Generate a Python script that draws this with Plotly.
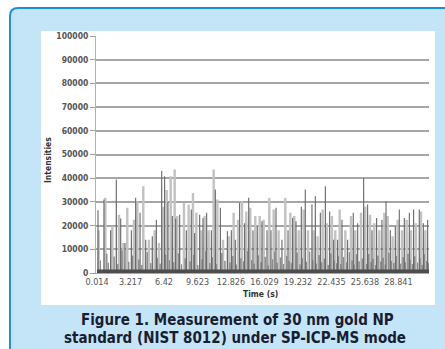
import plotly.graph_objects as go

# ---------------- data ----------------
tick_labels = ["0.014", "3.217", "6.42", "9.623", "12.826", "16.029",
               "19.232", "22.435", "25.638", "28.841"]
y_ticks = [0, 10000, 20000, 30000, 40000, 50000, 60000, 70000, 80000, 90000, 100000]

time_start = 0.014
time_end = 31.76
background_level = 700

# particle events (time in s, peak intensity)
spike_time = [
    0.11, 0.17, 0.68, 0.81, 1.32, 1.48, 1.86, 2.12, 2.28, 2.53, 2.69, 2.91, 3.30, 3.55,
    3.71, 3.87, 4.13, 4.44, 4.67, 4.98, 5.30, 5.53, 5.69, 5.94, 6.20, 6.36, 6.48, 6.68,
    6.80, 7.06, 7.22, 7.44, 7.54, 7.69,
    7.92, 8.33, 8.56, 8.78, 9.03, 9.19, 9.35, 9.51, 9.83, 9.99, 10.15, 10.31, 10.50,
    10.69, 10.95, 11.17, 11.33, 11.52, 11.81, 12.06, 12.48, 12.63, 12.86, 13.08, 13.24,
    13.50, 13.65, 13.88, 14.13, 14.29, 14.52, 14.67, 14.93, 15.15, 15.34, 15.57, 15.79,
    15.95, 16.27, 16.49, 16.65, 16.91, 17.13, 17.38, 17.70, 18.02, 18.28, 18.50, 18.72,
    18.88, 19.04, 19.30, 19.55, 19.77, 19.93, 20.19, 20.57, 20.73, 20.89, 21.11, 21.37,
    21.59, 21.85, 22.00, 22.26, 22.48, 22.64, 22.80, 23.02, 23.22, 23.44, 23.76,
    23.98, 24.30, 24.52, 24.71, 24.94, 25.26, 25.51, 25.67, 25.89, 26.12, 26.31, 26.53,
    26.75, 27.01, 27.26, 27.49, 27.65, 27.81, 28.06, 28.28, 28.54, 28.76, 28.92, 29.18,
    29.40, 29.62, 29.88, 30.04, 30.29, 30.51, 30.83, 30.99, 31.22, 31.41, 31.63,
]
spike_height = [
    26500, 18000, 31000, 31700, 18000, 19700, 39400, 24600, 23000, 12700, 12700, 27500, 18000, 22500,
    31700, 30300, 25400, 36600, 14000, 14000, 15500, 18000, 22500, 12700, 43000, 28000, 40800, 35000,
    30000, 40800, 24000, 43700, 23000, 24000,
    24600, 29600, 18000, 28900, 26800, 33800, 16900, 25400, 24600, 18000, 23200, 24000, 25400,
    18000, 18000, 43700, 35200, 31000, 27500, 14000, 17600, 15500, 18000, 25400, 14000,
    22500, 29600, 30300, 21000, 26000, 31700, 27500, 18000, 24000, 19700, 24000, 21800,
    22500, 18000, 31700, 18000, 26800, 27500, 18000, 14000, 31700, 18000, 25400, 23200,
    24000, 21800, 18000, 28000, 26800, 35200, 18000, 28900, 18000, 32400, 15500, 25400,
    26800, 36600, 21000, 26000, 24000, 14000, 18000, 14000, 26800, 22500, 18000,
    14000, 24000, 25400, 18000, 21000, 25400, 40000, 28000, 28900, 24600, 18000, 21000,
    23200, 18000, 22500, 25400, 30300, 24000, 18000, 15500, 19700, 22500, 26800, 18000,
    23200, 22500, 25400, 18000, 26800, 21000, 26800, 26000, 21000, 18000, 22500,
]

small_time = [
    0.35, 0.95, 1.10, 1.65, 2.00, 2.40, 3.05, 3.42, 4.00, 4.30, 4.82, 5.15, 5.80, 6.05,
    6.58, 6.95, 7.35, 7.80, 8.10, 8.45, 8.90, 9.25, 9.65, 10.05, 10.40, 10.80, 11.05,
    11.45, 11.95, 12.25, 12.72, 13.00, 13.35, 13.78, 14.02, 14.40, 14.80, 15.05, 15.45,
    15.70, 16.10, 16.40, 16.80, 17.00, 17.25, 17.55, 17.85, 18.15, 18.40, 18.60, 19.15,
    19.42, 19.65, 20.05, 20.35, 20.65, 21.00, 21.25, 21.50, 21.75, 22.12, 22.38, 22.70,
    22.92, 23.10, 23.32, 23.60, 23.88, 24.15, 24.40, 24.62, 24.82, 25.08, 25.38, 25.78,
    26.00, 26.22, 26.42, 26.65, 26.88, 27.15, 27.38, 27.58, 27.92, 28.17, 28.40, 28.65,
    29.05, 29.28, 29.50, 29.75, 29.96, 30.17, 30.40, 30.67, 30.90, 31.10, 31.32, 31.52, 31.70,
]
small_height = [
    5200, 8100, 4300, 6900, 3800, 9500, 4700, 7300, 5600, 3400, 8800, 4100, 6400, 3900,
    7700, 5300, 4500, 8200, 3600, 6100, 4900, 7600, 3300, 5800, 9100, 4200, 6600,
    3700, 8400, 5100, 4400, 7100, 3500, 6200, 4800, 9300, 5500, 3900, 7400,
    4600, 6800, 3200, 5700, 8900, 4300, 6500, 3800, 7200, 5000, 4100, 8600,
    3600, 6300, 4700, 9000, 5400, 3900, 7500, 4500, 6000, 3400, 8300, 5200,
    4000, 7000, 3700, 6700, 4400, 8700, 5300, 3500, 7800, 4900, 6100, 3800,
    8000, 4600, 5900, 3300, 7300, 4800, 6400, 3600, 8500, 5000, 4200, 7100,
    3900, 6600, 4500, 8100, 5600, 3700, 7000, 4300, 6200, 3400, 7900, 5000, 4100,
]

# ---------------- geometry helpers (pixel -> paper) ----------------
W, H = 445, 349
PL, PR, PT, PB = 96, 429, 36, 273


def fx(px):
    return (px - PL) / (PR - PL)


def fy(py):
    return (PB - py) / (PB - PT)


def spike_path(times, heights):
    xs, ys = [time_start], [background_level]
    for t, h in zip(times, heights):
        xs += [t - 0.012, t, t + 0.012]
        ys += [background_level, h, background_level]
    xs.append(time_end)
    ys.append(background_level)
    return xs, ys


light_t = [t for i, t in enumerate(spike_time) if i % 2 == 1]
light_h = [h for i, h in enumerate(spike_height) if i % 2 == 1]
dark_t = [t for i, t in enumerate(spike_time) if i % 2 == 0]
dark_h = [h for i, h in enumerate(spike_height) if i % 2 == 0]

fig = go.Figure()

lx, ly = spike_path(light_t, light_h)
fig.add_trace(go.Scatter(x=lx, y=ly, mode="lines", line=dict(color="#c2c2c2", width=2.4),
                         hoverinfo="skip", showlegend=False))
sx, sy = spike_path(small_time, small_height)
fig.add_trace(go.Scatter(x=sx, y=sy, mode="lines", line=dict(color="#8a8a8a", width=1),
                         hoverinfo="skip", showlegend=False))
dx, dy = spike_path(dark_t, dark_h)
fig.add_trace(go.Scatter(x=dx, y=dy, mode="lines", line=dict(color="#6a6a6a", width=1.1),
                         hoverinfo="skip", showlegend=False))
fig.add_trace(go.Scatter(x=[time_start, time_end], y=[background_level, background_level],
                         mode="lines", line=dict(color="#4d4d4d", width=3.5),
                         hoverinfo="skip", showlegend=False))

font_fam = "DejaVu Sans Condensed, Liberation Sans Narrow, sans-serif"

x_range_start = time_start - 3.203 / 33.5

fig.update_layout(
    width=W, height=H,
    margin=dict(l=PL, r=W - PR, t=PT, b=H - PB),
    paper_bgcolor="white",
    plot_bgcolor="rgba(0,0,0,0)",
    showlegend=False,
    xaxis=dict(
        range=[x_range_start, time_end],
        tickvals=[float(s) for s in tick_labels],
        ticktext=tick_labels,
        tickangle=0,
        showgrid=False, zeroline=False,
        showline=True, linecolor="#a8a8a8", linewidth=1,
        ticks="", tickfont=dict(family=font_fam, size=9, color="#555555"),
        fixedrange=True,
    ),
    yaxis=dict(
        range=[0, 100000],
        tickvals=y_ticks,
        tickformat="d",
        showgrid=True, gridcolor="#a6a6a6", gridwidth=1.6,
        zeroline=False,
        showline=True, linecolor="#b0b0b0", linewidth=1,
        ticks="outside", ticklen=5, tickcolor="#a0a0a0", tickwidth=1,
        tickfont=dict(family=font_fam, size=8.5, color="#555555", weight="bold"),
        fixedrange=True,
    ),
    shapes=[
        dict(type="path", xref="paper", yref="paper", layer="below",
             path=(f"M {fx(10)},{fy(350)} L {fx(10)},{fy(16)} "
                   f"Q {fx(10)},{fy(8)} {fx(18)},{fy(8)} L {fx(446)},{fy(8)} "
                   f"L {fx(446)},{fy(350)} Z"),
             fillcolor="#c4e5f8", line=dict(color="#1b8fdc", width=2)),
        dict(type="rect", xref="paper", yref="paper", layer="below",
             x0=fx(41), x1=fx(435), y0=fy(305), y1=fy(31),
             fillcolor="white", line=dict(width=0)),
    ],
    annotations=[
        dict(text="Intensities", xref="paper", yref="paper", x=fx(48), y=fy(160),
             textangle=-90, showarrow=False, xanchor="center", yanchor="middle",
             font=dict(family=font_fam, size=8.5, color="#333333", weight="bold")),
        dict(text="Time (s)", xref="paper", yref="paper", x=fx(260), y=fy(294),
             showarrow=False, xanchor="center", yanchor="middle",
             font=dict(family=font_fam, size=8.5, color="#333333", weight="bold")),
        dict(text="Figure 1. Measurement of 30 nm gold NP", xref="paper", yref="paper",
             x=fx(237), y=fy(320), showarrow=False, xanchor="center", yanchor="middle",
             font=dict(family=font_fam, size=15, color="#1a1d30", weight="bold")),
        dict(text="standard (NIST 8012) under SP-ICP-MS mode", xref="paper", yref="paper",
             x=fx(235), y=fy(338), showarrow=False, xanchor="center", yanchor="middle",
             font=dict(family=font_fam, size=15, color="#1a1d30", weight="bold")),
    ],
)

fig.write_html("out.html", config={"displayModeBar": False},
               post_script="document.body.style.margin='0';")
